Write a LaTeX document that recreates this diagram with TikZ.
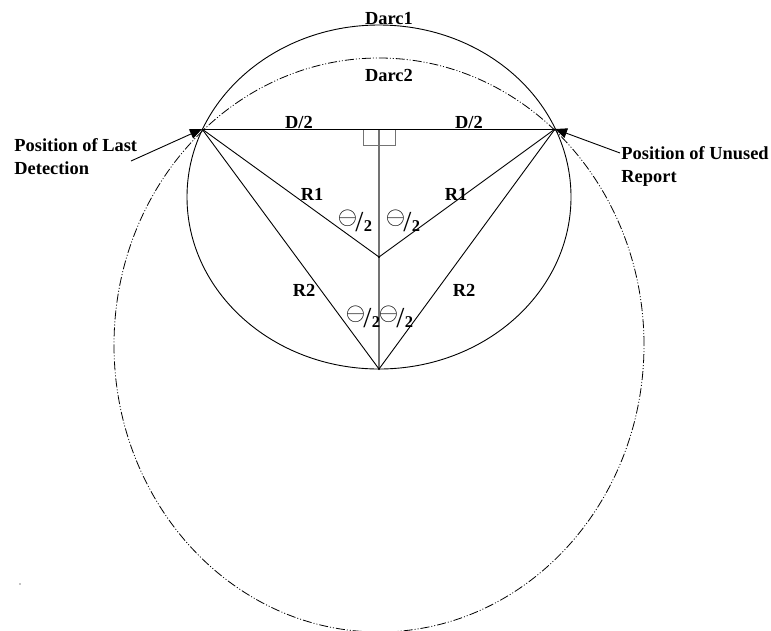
\documentclass[tikz,border=0pt]{standalone}
\usepackage{amssymb}
\usepackage{fontspec}
\setmainfont{Liberation Serif}
\usetikzlibrary{arrows.meta}

\newcommand{\halfangle}{\raisebox{4pt}{\fontsize{28}{28}\selectfont$\ominus$}\hspace{-2pt}\raisebox{-3pt}{\fontsize{29}{29}\selectfont\mdseries/}\hspace{0.5pt}\raisebox{-3pt}{\fontsize{16.5}{16.5}\selectfont 2}}

\begin{document}
\begin{tikzpicture}[x=1pt,y=-1pt,line width=0.9pt,
  label node/.style={inner sep=0pt,font=\fontsize{18.4}{23}\selectfont\bfseries},
  note node/.style={label node,align=left,anchor=west},
  angle node/.style={inner sep=0pt,font=\bfseries},
  axis line/.style={draw=black!55,line width=1.2pt},
  pointer/.style={-{Triangle[length=12pt,width=10pt]},shorten >=0pt},
  dash arc/.style={line width=0.8pt,dash pattern=on 9pt off 2pt on 1pt off 2pt on 1pt off 2pt}]

  \clip (0,0) rectangle (771,630);

  \coordinate (last) at (202,129);
  \coordinate (unused) at (555,129);
  \coordinate (mid) at (379,129);
  \coordinate (apex1) at (379,257);
  \coordinate (apex2) at (379,369);
  \coordinate (lastTail) at (131,161);
  \coordinate (unusedTail) at (620,153);

  \draw (379,197) ellipse [x radius=192pt,y radius=172pt];
  \draw[dash arc] (379,345) ellipse [x radius=265pt,y radius=287pt];

  \draw[axis line,line width=0.9pt] (363,129) -- (363,145) -- (395,145) -- (395,129);
  \path[axis line] (mid) edge (apex2);

  \path
    (last) edge (unused)
           edge (apex1)
           edge (apex2)
    (unused) edge (apex1)
             edge (apex2);

  \fill (apex1) circle (1.2pt);
  \fill (apex2) circle (1.2pt);

  \path (lastTail) edge [pointer] (last);
  \path (unusedTail) edge [pointer] (unused);

  \node[label node] (darc1) at (389,19) {Darc1};
  \node[label node] (darc2) at (389,75) {Darc2};
  \node[label node] (halfL) at (299,122) {D/2};
  \node[label node] (halfR) at (469,122) {D/2};
  \node[label node] (r1L) at (312,194) {R1};
  \node[label node] (r1R) at (456,194) {R1};
  \node[label node] (r2L) at (304,290) {R2};
  \node[label node] (r2R) at (464,290) {R2};

  \node[note node] (lastNote) at (14,157) {Position of Last\\Detection};
  \node[note node] (unusedNote) at (621,166) {Position of Unused\\Report};

  \node[angle node] (ang1) at (355,221) {\halfangle};
  \node[angle node] (ang2) at (403,221) {\halfangle};
  \node[angle node] (ang3) at (363,317) {\halfangle};
  \node[angle node] (ang4) at (396,317) {\halfangle};

  \fill (20,584) circle (0.7pt);
\end{tikzpicture}
\end{document}
